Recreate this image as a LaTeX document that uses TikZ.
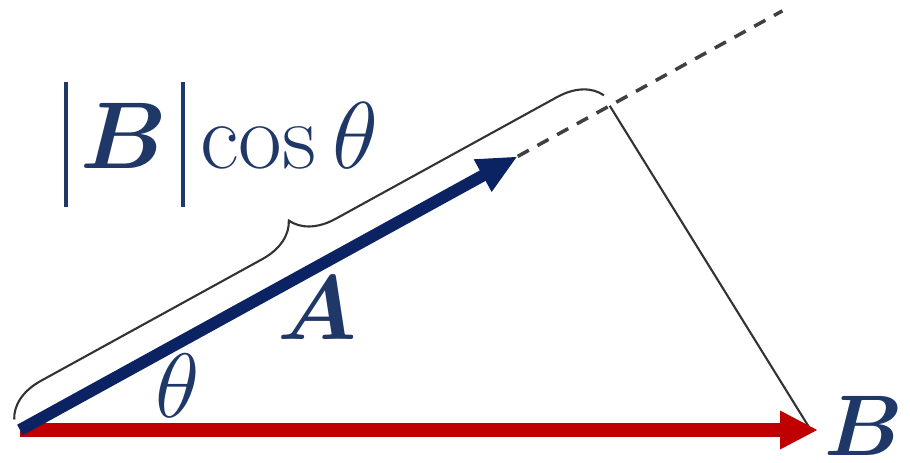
\RequirePackage{fix-cm}
\documentclass[tikz,border=0pt]{standalone}
\usepackage{amsmath,bm}
\usepackage{xcolor}
\usetikzlibrary{arrows.meta,calc,decorations.pathreplacing}
\definecolor{vecA}{HTML}{0B2363}
\definecolor{vecB}{HTML}{C00000}
\definecolor{lbl}{HTML}{1F3868}
\newcommand{\tallbar}{\rule[-3.9mm]{1.1pt}{12.5mm}}

\begin{document}
\begin{tikzpicture}[
  lab/.style={text=lbl,font=\fontsize{26}{30}\selectfont,inner sep=0pt},
  arrA/.style={-{Triangle[length=4mm,width=3.4mm]},line width=3.4pt,vecA},
  arrB/.style={-{Triangle[length=3.8mm,width=3.6mm]},line width=3.7pt,vecB},
  extline/.style={dash pattern=on 3.6pt off 2.8pt,line width=1pt,black!75},
  projline/.style={line width=0.6pt,black!80},
  brc/.style={decorate,decoration={brace,amplitude=0.42cm,raise=0.12cm},line width=0.6pt,black!80}]
  \useasboundingbox (0,0) rectangle (9.10,4.62);
  \coordinate (O) at (0.20,0.32);
  \coordinate (Bt) at (8.18,0.32);
  \coordinate (Bq) at (8.12,0.30);
  \coordinate (At) at ($(O)+(28.8:5.68)$);
  \coordinate (P) at ($(O)+(28.8:6.73)$);
  \coordinate (E) at ($(O)+(28.8:8.70)$);
  \draw[extline] (At) -- (E);
  \draw[projline] (P) -- (Bq);
  \draw[arrB] (O) -- (Bt);
  \draw[arrA] (O) -- (At);
  \draw[brc] (O) -- (P);
  \node[lab,font=\fontsize{24.5}{30}\selectfont] (lB) at (8.64,0.36) {$\bm{B}$};
  \node[lab] (lA) at (3.17,1.54) {$\bm{A}$};
  \node[lab] (lth) at (1.78,0.76) {$\theta$};
  \node[lab,font=\fontsize{27}{30}\selectfont] (lproj) at (2.21,3.17)
    {$\mathopen{\tallbar}\mkern2.5mu\bm{B}\mkern2.5mu\mathclose{\tallbar}\cos\theta$};
\end{tikzpicture}
\end{document}
